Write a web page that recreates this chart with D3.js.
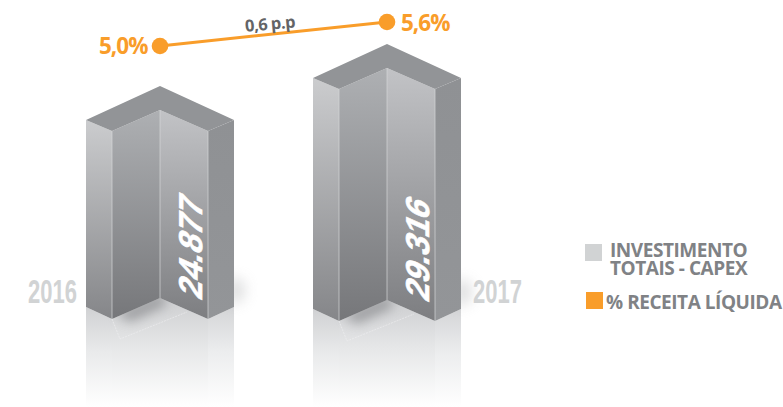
<!DOCTYPE html>
<html><head><meta charset="utf-8">
<script src="https://cdn.jsdelivr.net/npm/d3@7/dist/d3.min.js"></script>
<style>html,body{margin:0;padding:0;background:#fff}svg{display:block}</style>
</head><body><div id="c"></div>
<script>
const years = ["2016","2017"];
const capex = [24877,29316];
const capexLabels = ["24.877","29.316"];
const pct = [5.0,5.6];
const pctLabels = ["5,0%","5,6%"];
const deltaLabel = "0,6 p.p";
const legendCapex = ["INVESTIMENTO","TOTAIS - CAPEX"];
const legendPct = "% RECEITA LÍQUIDA";

const W=783,H=407;
const svg=d3.select("#c").append("svg").attr("width",W).attr("height",H);
const defs=svg.append("defs");
function grad(id,stops,x2=0,y2=1){
  const g=defs.append("linearGradient").attr("id",id).attr("x1",0).attr("y1",0).attr("x2",x2).attr("y2",y2);
  stops.forEach(s=>g.append("stop").attr("offset",s[0]).attr("stop-color",s[1]).attr("stop-opacity",s[2]===undefined?1:s[2]));
}
grad("fL",[[0,"#cbccce"],[1,"#858689"]]);
grad("fIL",[[0,"#aeb0b3"],[1,"#76777a"]]);
grad("fIR",[[0,"#c2c3c6"],[1,"#7d7e81"]]);
grad("fR",[[0,"#8f9194"],[1,"#939598"]]);
grad("rL",[[0,"#d0d1d3"],[.45,"#e9eaeb"],[1,"#ffffff"]]);
grad("rIL",[[0,"#cdced0"],[.45,"#e6e7e8"],[1,"#ffffff"]]);
grad("rR",[[0,"#d4d5d7"],[.45,"#ecedee"],[1,"#ffffff"]]);
defs.append("filter").attr("id","blur").attr("x","-60%").attr("y","-150%").attr("width","220%").attr("height","400%")
  .append("feGaussianBlur").attr("stdDeviation",6);
defs.append("filter").attr("id","blur2").attr("x","-150%").attr("y","-100%").attr("width","400%").attr("height","300%")
  .append("feGaussianBlur").attr("stdDeviation",7);

// scales
const cx=d3.scalePoint().domain(years).range([160,387]);
const baseY=d3.scalePoint().domain(years).range([319,321]);
const h=d3.scaleLinear().domain([capex[0],capex[1]]).range([188,232]);
const yPct=d3.scaleLinear().domain([pct[0],pct[1]]).range([46,22]);
const line=d3.line().curve(d3.curveLinearClosed);
const armX=74, notchX=48, rise=12, innerRise=21, backRise=45;

years.forEach((yr,i)=>{
  const c=cx(yr), b=baseY(yr), top=b-h(capex[i]);
  const g=svg.append("g");
  const bl=[c-armX,b-rise], bn=[c-notchX,b], bi=[c,b-innerRise], bn2=[c+notchX,b], br=[c+armX,b-rise];
  const tl=[c-armX,top-rise+1], tn=[c-notchX,top], ti=[c,top-innerRise], tn2=[c+notchX,top], tr=[c+armX,top-rise+1];
  const ta=[c,top-backRise];
  const R=407;
  // reflection
  const rf=(pts,fill)=>g.append("path").attr("d",line(pts)).attr("fill",fill);
  rf([bl,bn,[bn[0],R],[bl[0],R]],"url(#rL)");
  rf([bn,bi,[bi[0],R],[bn[0],R]],"url(#rIL)");
  rf([bi,bn2,[bn2[0],R],[bi[0],R]],"url(#rIL)");
  rf([bn2,br,[br[0],R],[bn2[0],R]],"url(#rR)");
  // shadows
  g.append("path").attr("d",line([[c-44,b-6],[c+2,b-26],[c+6,b-14],[c-30,b+3]]))
    .attr("fill","#77787b").attr("opacity",.6).attr("filter","url(#blur)");
  g.append("path").attr("d",line([[c+armX-6,b-42],[c+armX+10,b-38],[c+armX+10,b-20],[c+armX-6,b-14]]))
    .attr("fill","#b4b5b7").attr("opacity",.45).attr("filter","url(#blur2)");
  // faint floor outline
  g.append("path").attr("d",d3.line()([bn,[c-40,b+20],[c+27,b-7]]))
    .attr("fill","none").attr("stroke","#f0f0f1").attr("stroke-width",.6).attr("stroke-dasharray","2 1");
  // faces
  const face=(pts,fill)=>g.append("path").attr("d",line(pts)).attr("fill",fill);
  face([tl,tn,bn,bl],"url(#fL)");
  face([tn,ti,bi,bn],"url(#fIL)");
  face([ti,tn2,bn2,bi],"url(#fIR)");
  face([tn2,tr,br,bn2],"url(#fR)");
  face([tl,ta,tr,tn2,ti,tn],"#929497");
  // edge highlights
  [[tn,bn],[ti,bi],[tn2,bn2]].forEach(s=>g.append("path").attr("d",d3.line()(s))
    .attr("stroke","#d6d7d9").attr("stroke-width",.7).attr("fill","none"));
  // value label
  g.append("text").attr("transform",`translate(${c+42},${b-18}) rotate(-90) skewX(-24)`)
    .attr("font-family","Liberation Sans").attr("font-weight",700)
    .attr("font-size",33).attr("fill","#fff").attr("stroke","#fff").attr("stroke-width",.6)
    .attr("textLength",100).attr("lengthAdjust","spacingAndGlyphs")
    .text(capexLabels[i]);
});

// year labels
svg.selectAll(".yr").data(years).join("text").attr("class","yr")
  .attr("x",(d,i)=>i===0?28:473).attr("y",303)
  .attr("font-family","Liberation Sans").attr("font-weight",700)
  .attr("font-size",33).attr("fill","#d1d3d4").attr("textLength",49).attr("lengthAdjust","spacingAndGlyphs")
  .text(d=>d);

// pct line
svg.append("path").attr("d",d3.line().x((d,i)=>cx(years[i])).y(d=>yPct(d))(pct))
  .attr("stroke","#f99d2a").attr("stroke-width",3).attr("fill","none");
svg.selectAll(".dot").data(pct).join("circle").attr("class","dot")
  .attr("cx",(d,i)=>cx(years[i])).attr("cy",d=>yPct(d)).attr("r",8.3).attr("fill","#f99d2a");
svg.selectAll(".pl").data(pct).join("text").attr("class","pl")
  .attr("x",(d,i)=>i===0?99:401).attr("y",(d,i)=>yPct(d)+(i===0?8:9))
  .attr("font-family","Open Sans").attr("font-weight",700).attr("font-size",22.5)
  .attr("fill","#f99d2a").attr("letter-spacing",-1)
  .text((d,i)=>pctLabels[i]);
svg.append("text").attr("x",245).attr("y",29).attr("font-family","Open Sans").attr("font-weight",700)
  .attr("font-size",16.5).attr("fill","#636466").attr("letter-spacing",-.5)
  .attr("transform","rotate(-5 278 24)").text(deltaLabel);

// legend
svg.append("rect").attr("x",585).attr("y",244).attr("width",17).attr("height",17).attr("fill","#d1d3d4");
svg.append("rect").attr("x",586).attr("y",292).attr("width",17).attr("height",17).attr("fill","#f99d2a");
legendCapex.forEach((t,i)=>svg.append("text").attr("x",610).attr("y",257+i*18)
  .attr("font-family","Open Sans").attr("font-weight",700).attr("font-size",19)
  .attr("fill","#808285").attr("letter-spacing",-.45).text(t));
svg.append("text").attr("x",606).attr("y",309).attr("font-family","Open Sans").attr("font-weight",700)
  .attr("font-size",19).attr("fill","#808285").attr("letter-spacing",-.45).text(legendPct);
</script></body></html>
